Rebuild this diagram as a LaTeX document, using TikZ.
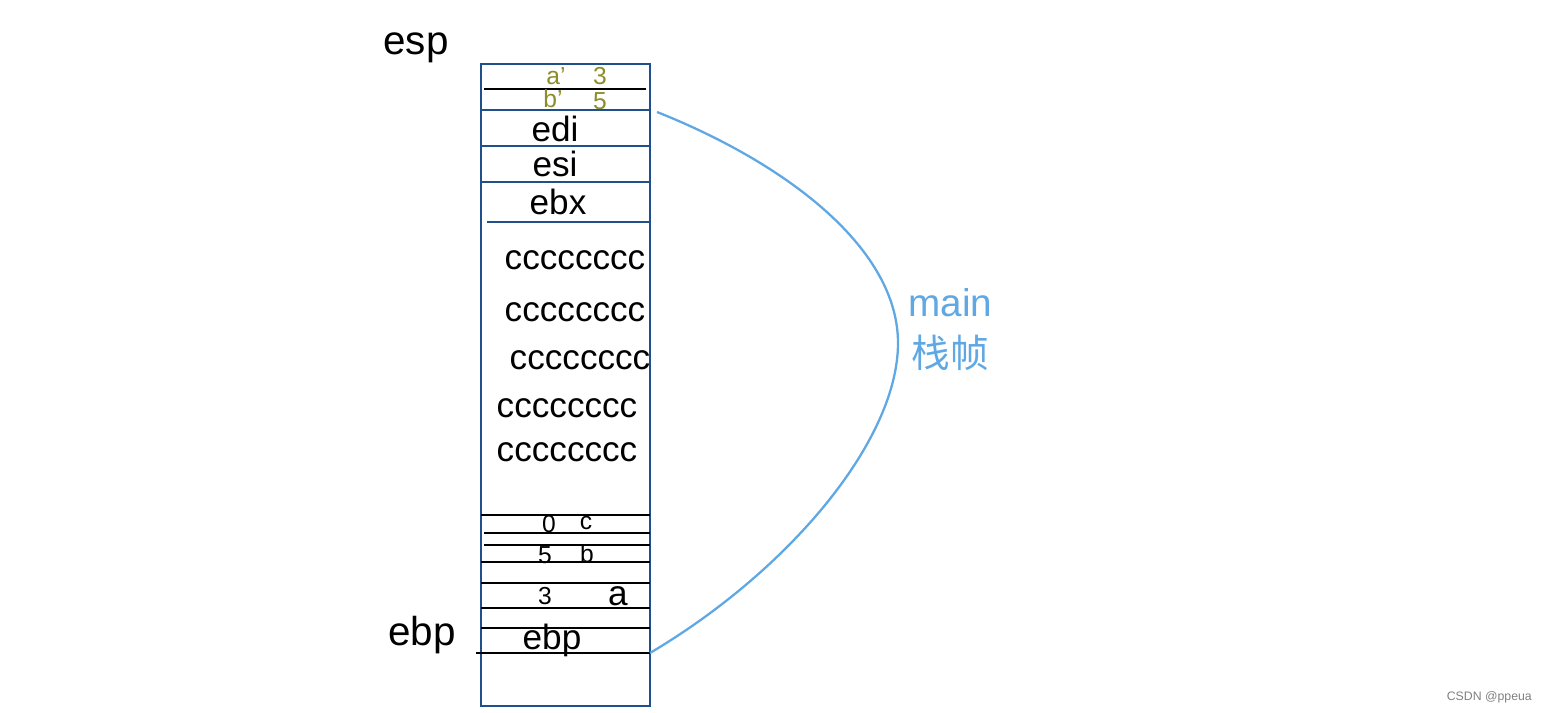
\documentclass[tikz,border=0pt]{standalone}
\usepackage{fontspec}
\setmainfont{Liberation Sans}
\newfontfamily\cjk{Noto Sans CJK SC}
\usepackage{tikz}
\definecolor{boxblue}{RGB}{32,80,140}
\definecolor{curveblue}{RGB}{95,168,228}
\definecolor{olive}{RGB}{140,140,40}
\tikzset{
  hand/.style={font=\fontsize{20}{24}\selectfont, inner sep=0pt},
  big/.style={font=\fontsize{23}{27}\selectfont, inner sep=0pt},
  small/.style={font=\fontsize{14}{16}\selectfont, inner sep=0pt},
  rowline/.style={boxblue, line width=1.3pt},
  slotline/.style={black, line width=1.3pt}
}

\begin{document}
\begin{tikzpicture}[x=0.02cm, y=-0.02cm]
                \useasboundingbox (0,0) rectangle (1546,713);
                \draw[rowline] (481,64) rectangle (650,706);
                \draw[slotline] (484,89) -- (646,89);
                \foreach \y in {110,146,182} \draw[rowline] (481,\y) -- (650,\y);
                \draw[rowline] (487,222) -- (650,222);
                \foreach \y in {515,562,583,608,628} \draw[slotline] (481,\y) -- (650,\y);
                \foreach \y in {533,545} \draw[slotline] (484,\y) -- (650,\y);
                \draw[slotline] (476,653) -- (650,653);
                % register names
                \node[big] (esp) at (416,48) {esp};
                \node[big] (ebplabel) at (422,635) {ebp};
                \node[small, olive] (aprime) at (556,76) {a'};
                \node[small, olive] (three) at (600,76) {3};
                \node[small, olive] (bprime) at (553,99) {b'};
                \node[small, olive] (five) at (600,101) {5};
                \node[hand] (edi) at (555,129) {edi};
                \node[hand] (esi) at (555,164) {esi};
                \node[hand] (ebx) at (558,202) {ebx};
                \foreach \x/\y [count=\i] in {575/260, 575/312, 580/360, 567/408, 567/452}
                    \node[hand] (cc\i) at (\x,\y) {cccccccc};
                \node[small] (zero) at (549,524) {0};
                \node[small] (c) at (586,523) {c};
                \node[small] (fiveb) at (545,555) {5};
                \node[small] (b) at (587,554) {b};
                \node[small] (threea) at (545,596) {3};
                \node[hand] (a) at (618,596) {a};
                \node[hand] (ebp) at (552,640) {ebp};
                % main frame
                \coordinate (bottom) at (650,653);
                \coordinate (peak) at (898,343);
                \coordinate (top) at (657,112);
                \draw[curveblue, line width=1.3pt] (bottom) .. controls (790,570) and (898,440) .. (peak)
                    .. controls (898,250) and (790,165) .. (top);
                \node[font=\fontsize{22}{26}\selectfont, inner sep=0pt, curveblue, anchor=west] (main) at (908,303) {main};
                \node[font=\fontsize{22}{26}\selectfont, inner sep=0pt, curveblue, anchor=west] (frame) at (911,353) {\cjk 栈帧};
                \node[font=\fontsize{7}{8}\selectfont, gray, anchor=east] (csdn) at (1538,697) {CSDN @ppeua};
            \end{tikzpicture}
\end{document}
